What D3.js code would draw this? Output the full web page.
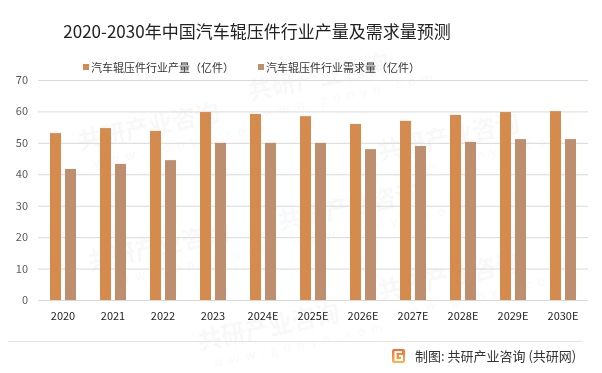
<!DOCTYPE html>
<html><head><meta charset="utf-8">
<script src="https://cdn.jsdelivr.net/npm/d3@7/dist/d3.min.js"></script>
<style>body{margin:0;background:#fff}svg{display:block}</style>
</head><body>
<svg id="c" width="602" height="373"></svg>
<script>
const categories = ["2020","2021","2022","2023","2024E","2025E","2026E","2027E","2028E","2029E","2030E"];
const production = [53.1,54.7,53.8,59.8,59.2,58.5,56.0,57.0,58.9,59.8,60.1];
const demand = [41.7,43.3,44.5,50.0,50.0,50.0,48.0,49.0,50.3,51.2,51.2];
const yTicks = [0,10,20,30,40,50,60,70];
const seriesNames = ["汽车辊压件行业产量（亿件）","汽车辊压件行业需求量（亿件）"];
const colors = ["#D48B4D","#BD8F6E"];
const font = "'Microsoft YaHei','Noto Sans CJK SC','DejaVu Sans',sans-serif";

const svg = d3.select("#c");
const L = 38, R = 588, T = 80, B = 300;
const x = d3.scaleBand().domain(categories).range([L,R]);
const y = d3.scaleLinear().domain([0,70]).range([B,T]);

// watermarks
const wm = svg.append("g").attr("fill","#000").attr("opacity",0.03).attr("font-family",font).attr("font-weight","bold");
[[80,150],[250,100],[380,160],[90,270],[280,230],[380,300],[200,350]].forEach(([a,b])=>{
  const g = wm.append("g").attr("transform",`translate(${a},${b}) rotate(-12)`);
  g.append("text").attr("font-size",24).text("共研产业咨询");
  g.append("text").attr("x",10).attr("y",20).attr("font-size",13).attr("letter-spacing",6).attr("font-weight","normal").text("www.gonyn.com");
});

// title
svg.append("text").attr("x",257).attr("y",38).attr("text-anchor","middle")
  .attr("font-family",font).attr("font-size",17).attr("fill","#222")
  .text("2020-2030年中国汽车辊压件行业产量及需求量预测");

// legend
const lg = svg.append("g").attr("font-family",font).attr("font-size",11).attr("fill","#333");
[[83,0],[258,1]].forEach(([lx,i])=>{
  lg.append("rect").attr("x",lx).attr("y",64).attr("width",6).attr("height",6).attr("fill",colors[i]);
  lg.append("text").attr("x",lx+8).attr("y",72).attr("fill","#333").text(seriesNames[i]);
});

// grid
svg.append("g").selectAll("line").data(yTicks).join("line")
  .attr("x1",L).attr("x2",R).attr("y1",d=>y(d)+0.5).attr("y2",d=>y(d)+0.5)
  .attr("stroke","#d9d9d9").attr("stroke-width",1);

// y axis
const ya = svg.append("g").attr("transform",`translate(${L},0)`)
  .call(d3.axisLeft(y).tickValues(yTicks).tickSize(0).tickPadding(10));
ya.select(".domain").remove();
ya.selectAll("text").attr("font-family",font).attr("font-size",11).attr("fill","#595959");

// bars
const bw = 11, off = 12, gap = 4;
svg.append("g").selectAll("rect").data(categories).join("rect")
  .attr("x",d=>x(d)+off).attr("width",bw)
  .attr("y",(d,i)=>y(production[i])).attr("height",(d,i)=>B-y(production[i]))
  .attr("fill",colors[0]);
svg.append("g").selectAll("rect").data(categories).join("rect")
  .attr("x",d=>x(d)+off+bw+gap).attr("width",bw)
  .attr("y",(d,i)=>y(demand[i])).attr("height",(d,i)=>B-y(demand[i]))
  .attr("fill",colors[1]);

// x axis
const xa = svg.append("g").attr("transform",`translate(0,${B})`)
  .call(d3.axisBottom(x).tickSize(0).tickPadding(12));
xa.select(".domain").remove();
xa.selectAll("text").attr("font-family",font).attr("font-size",11).attr("fill","#222");

// footer separator
svg.append("line").attr("x1",8).attr("x2",582).attr("y1",341.5).attr("y2",341.5).attr("stroke","#e3e3e3");

// footer logo
const defs = svg.append("defs");
const gr = defs.append("linearGradient").attr("id","lg").attr("x1",0).attr("y1",0).attr("x2",0).attr("y2",1);
gr.append("stop").attr("offset",0).attr("stop-color","#F26B3A");
gr.append("stop").attr("offset",1).attr("stop-color","#F9B64A");
svg.append("rect").attr("x",392).attr("y",349).attr("width",13).attr("height",14).attr("rx",2).attr("fill","url(#lg)");
svg.append("path").attr("d","M402,352 L395.5,352 L395.5,360 L402,360 L402,356 L399,356")
  .attr("fill","none").attr("stroke","#fff").attr("stroke-width",2);
svg.append("text").attr("x",415).attr("y",361).attr("font-family",font).attr("font-size",13).attr("fill","#333")
  .text("制图: 共研产业咨询 (共研网)");
</script>
</body></html>
